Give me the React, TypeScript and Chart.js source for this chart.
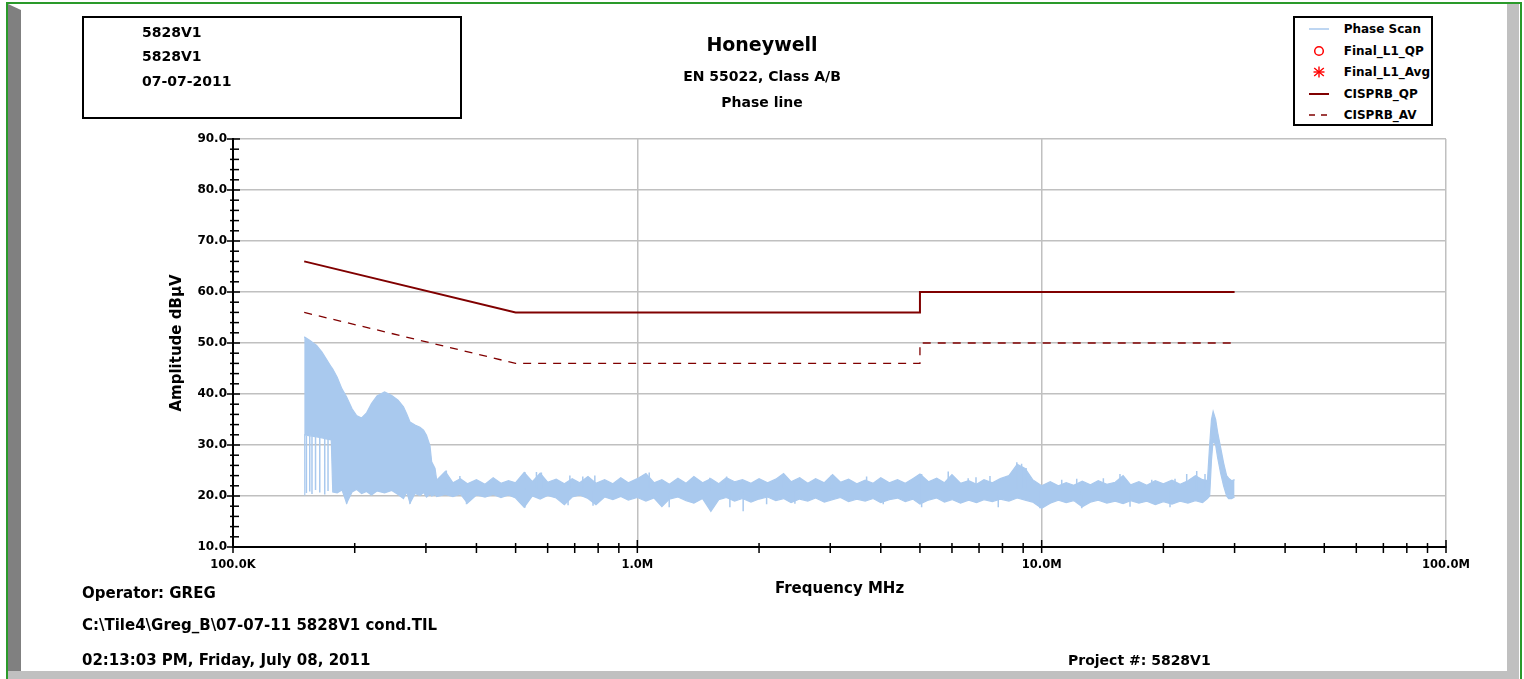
import React, { useEffect, useRef } from "react";
import { Chart, registerables } from "chart.js";

Chart.register(...registerables);

const FONT = "'DejaVu Sans', 'Liberation Sans', Arial, sans-serif";
const SCAN_COLOR = "#a9c9ee";
const LIMIT_COLOR = "#800000";

// ---- Phase Scan (envelope of the dense sweep), frequency in MHz ----
const scanFreqMHz = [
  0.150, 0.1505, 0.155, 0.161, 0.166, 0.170, 0.175, 0.1765, 0.181, 0.186, 0.191, 0.197,
  0.202, 0.208, 0.214, 0.220, 0.227, 0.237, 0.247, 0.256, 0.264, 0.269,
  0.274, 0.282, 0.290, 0.296, 0.301, 0.307, 0.310, 0.316, 0.319,
  0.335, 0.35, 0.365, 0.38, 0.40, 0.42, 0.44, 0.46, 0.48, 0.50,
  0.525, 0.55, 0.575, 0.60, 0.63, 0.66, 0.69, 0.72, 0.755, 0.79, 0.83, 0.87, 0.91, 0.95,
  1.0, 1.05, 1.1, 1.15, 1.2, 1.26, 1.32, 1.38, 1.45, 1.52, 1.59, 1.66, 1.74, 1.82, 1.91,
  2.0, 2.1, 2.2, 2.3, 2.4, 2.52, 2.64, 2.76, 2.9, 3.04, 3.18, 3.33, 3.49, 3.66, 3.83, 4.0, 4.2, 4.4, 4.6, 4.8,
  5.0, 5.25, 5.5, 5.75, 6.0, 6.3, 6.6, 6.9, 7.2, 7.55, 7.9, 8.3, 8.7, 9.1, 9.5,
  10.0, 10.5, 11.0, 11.5, 12.0, 12.6, 13.2, 13.8, 14.5, 15.2, 15.9, 16.6, 17.4, 18.2, 19.1, 20.0, 21.0, 22.0, 23.0, 24.0, 25.0,
  25.7, 26.03, 26.3, 26.55, 26.93, 27.24, 27.71, 28.18, 28.67, 29.0, 29.5, 30.0,
];
const scanUpper = [
  51.2, 51.2, 50.5, 49.5, 48.2, 46.9, 45.3, 44.9, 43.3, 41.0, 39.4, 37.1,
  35.8, 35.3, 36.3, 38.1, 39.6, 40.4, 39.7, 38.8, 37.5, 36.1,
  34.5, 33.9, 33.5, 32.9, 31.9, 29.9, 26.7, 25.4, 23.1,
  24.8, 22.6, 23.4, 22.4, 23.2, 22.3, 23.6, 22.5, 23.0, 22.6,
  24.6, 22.8, 24.5, 22.7, 23.3, 22.4, 23.4, 22.6, 23.8, 22.5, 23.2, 22.4, 23.6, 22.6,
  23.4, 24.4, 22.6, 23.2, 22.3, 23.5, 22.5, 23.8, 22.6, 23.4, 22.4, 23.6, 22.8, 23.2, 22.5,
  23.4, 22.6, 23.3, 24.4, 22.8, 23.6, 22.5, 23.4, 22.6, 24.2, 22.7, 23.3, 22.4, 23.1, 22.5, 23.6, 22.6, 23.2, 22.5, 23.4,
  24.3, 22.8, 23.5, 22.6, 24.2, 22.5, 23.0, 22.3, 23.2, 22.6, 23.4, 24.0, 26.2, 25.4, 23.2,
  22.0, 22.8, 22.0, 22.6, 22.1, 22.9, 22.2, 23.0, 22.3, 22.7, 24.0, 22.2, 22.8, 22.1, 23.0, 22.4, 23.1, 22.3, 23.0, 24.0, 23.2,
  23.0, 30.0, 35.0, 36.6, 35.0, 32.5, 29.5, 26.5, 24.0, 23.5, 23.0, 23.2,
];
const scanLower = [
  20.2, 32.0, 31.8, 31.6, 31.4, 31.2, 31.0, 20.8, 20.6, 21.2, 18.6, 20.8,
  21.3, 20.5, 20.9, 20.2, 21.0, 20.6, 21.1, 20.3, 19.5, 20.8,
  18.6, 20.5, 20.1, 20.7, 19.8, 20.4, 20.0, 20.3, 19.9,
  20.3, 19.9, 20.4, 18.6, 20.2, 19.8, 20.3, 19.7, 20.2, 19.6,
  17.8, 20.0, 19.4, 20.1, 19.6, 18.3, 19.8, 20.2, 19.5, 18.3, 19.8, 19.3, 19.9, 19.2,
  19.7, 19.0, 19.6, 17.9, 19.4, 19.8, 19.1, 18.6, 19.5, 17.0, 19.3, 19.7, 19.0, 19.5, 18.8,
  19.4, 19.8, 19.1, 19.5, 18.7, 19.4, 19.0, 19.6, 18.8, 19.3, 19.7, 18.9, 19.4, 19.0, 19.5, 18.7, 19.3, 19.6, 18.9, 19.4,
  18.4, 19.2, 19.6, 18.8, 19.3, 18.6, 19.2, 18.7, 19.3, 18.9, 19.4, 19.0, 19.6, 19.2, 18.8,
  17.6, 18.6, 19.2, 18.7, 19.1, 17.9, 18.8, 19.2, 18.6, 19.0, 18.5, 19.1, 18.6, 19.0, 18.3, 18.9, 18.4, 19.0, 18.6, 19.1, 18.7,
  19.5, 20.0, 27.0, 31.0, 30.0, 27.5, 24.5, 22.0, 20.0, 19.5, 19.5, 19.8,
];

// ---- Single sweep spikes (vertical strokes), frequency in MHz, low/high in dBuV ----
const spikeFreqMHz = [
  0.1519, 0.1548, 0.1568, 0.1600, 0.1639, 0.1686, 0.1718,
  0.191, 0.274, 0.337, 0.364, 0.378, 0.527, 0.563, 0.579, 0.674, 0.681, 0.733, 0.777, 0.785,
  1.070, 1.199, 1.511, 1.663, 1.694, 1.827, 2.088, 2.295, 2.453, 2.523, 3.022, 3.690, 4.057,
  5.048, 5.874, 6.58, 6.88, 7.45, 7.81, 8.68, 8.92, 9.15, 9.90,
  11.21, 12.21, 12.56, 14.21, 15.62, 16.54, 18.72, 20.77, 21.37, 22.84, 24.18, 25.35,
];
const spikeLow = [
  20.6, 20.9, 20.4, 21.2, 20.7, 20.3, 21.0,
  18.5, 18.5, 21.5, 21.5, 18.4, 17.7, 21.5, 21.5, 18.2, 21.5, 21.5, 18.1, 21.5,
  21.5, 17.8, 21.0, 21.5, 17.8, 17.0, 18.4, 21.5, 18.5, 21.5, 21.5, 21.5, 18.4,
  17.8, 21.5, 21.5, 21.5, 21.5, 17.8, 21.5, 21.5, 21.5, 17.6,
  21.3, 21.3, 17.6, 21.3, 21.3, 17.9, 21.3, 17.8, 21.3, 21.3, 21.3, 21.3,
];
const spikeHigh = [
  31.8, 31.8, 31.7, 31.6, 31.5, 31.3, 31.2,
  21.0, 21.0, 25.0, 23.9, 21.0, 24.7, 24.7, 24.6, 21.0, 24.0, 23.8, 21.0, 24.0,
  24.6, 21.0, 23.6, 23.8, 21.0, 21.0, 21.0, 24.3, 21.0, 23.6, 24.1, 23.8, 21.0,
  24.3, 24.8, 23.5, 23.7, 23.9, 21.0, 26.6, 26.3, 25.5, 21.0,
  23.2, 23.4, 21.0, 23.5, 24.3, 21.0, 23.2, 21.0, 23.4, 24.3, 24.9, 24.3,
];

// ---- Limit lines ----
const limitFreqMHz = [0.15, 0.5, 5, 5, 30];
const qpLimit = [66, 56, 56, 60, 60];
const avLimit = [56, 46, 46, 50, 50];

// ---- Axes ----
const xMajorValues = [0.1, 1, 10, 100];
const xMajorLabels = ["100.0K", "1.0M", "10.0M", "100.0M"];
const xMinorValues = [
  0.2, 0.3, 0.4, 0.5, 0.6, 0.7, 0.8, 0.9,
  2, 3, 4, 5, 6, 7, 8, 9,
  20, 30, 40, 50, 60, 70, 80, 90,
];
const yMajorValues = [10, 20, 30, 40, 50, 60, 70, 80, 90];
const yMinorValues = [
  12, 14, 16, 18, 22, 24, 26, 28, 32, 34, 36, 38, 42, 44, 46, 48,
  52, 54, 56, 58, 62, 64, 66, 68, 72, 74, 76, 78, 82, 84, 86, 88,
];

const headerLines = ["5828V1", "5828V1", "07-07-2011"];
const footerLines = [
  "Operator: GREG",
  "C:\\Tile4\\Greg_B\\07-07-11 5828V1 cond.TIL",
  "02:13:03 PM, Friday, July 08, 2011",
];
const projectText = "Project #: 5828V1";
const legendItems = ["Phase Scan", "Final_L1_QP", "Final_L1_Avg", "CISPRB_QP", "CISPRB_AV"];

const toXY = (xs: number[], ys: number[]) => xs.map((x, i) => ({ x, y: ys[i] }));
const toStrokes = (xs: number[], lo: number[], hi: number[]) =>
  xs.flatMap((x, i) => [
    { x, y: lo[i] },
    { x, y: hi[i] },
    { x, y: null },
  ]);

const tickMarksPlugin = {
  id: "tickMarks",
  afterDraw(chart: any) {
    const { ctx, chartArea, scales } = chart;
    const x = scales.x;
    const y = scales.y;
    ctx.save();
    ctx.strokeStyle = "#000";
    ctx.lineWidth = 1.5;
    const b = chartArea.bottom;
    const l = chartArea.left;
    const line = (x1: number, y1: number, x2: number, y2: number) => {
      ctx.beginPath();
      ctx.moveTo(x1, y1);
      ctx.lineTo(x2, y2);
      ctx.stroke();
    };
    xMajorValues.forEach((v) => {
      const px = x.getPixelForValue(v);
      line(px, b - 7, px, b + 6);
    });
    xMinorValues.forEach((v) => {
      const px = x.getPixelForValue(v);
      line(px, b - 4, px, b + 6);
    });
    yMajorValues.forEach((v) => {
      const py = y.getPixelForValue(v);
      line(l - 6, py, l + 7, py);
    });
    yMinorValues.forEach((v) => {
      const py = y.getPixelForValue(v);
      line(l - 3, py, l + 6, py);
    });
    ctx.restore();
  },
};

function LegendSymbol({ kind }: { kind: number }) {
  const w = 24;
  const h = 12;
  if (kind === 0)
    return (
      <svg width={w} height={h}>
        <line x1={2} y1={6} x2={22} y2={6} stroke={SCAN_COLOR} strokeWidth={1.5} />
      </svg>
    );
  if (kind === 1)
    return (
      <svg width={w} height={h}>
        <circle cx={12} cy={6} r={4.3} fill="none" stroke="#ff0000" strokeWidth={1.5} />
      </svg>
    );
  if (kind === 2)
    return (
      <svg width={w} height={h}>
        <g stroke="#ff0000" strokeWidth={1.4}>
          <line x1={12} y1={0.5} x2={12} y2={11.5} />
          <line x1={7.2} y1={2} x2={16.8} y2={10} />
          <line x1={16.8} y1={2} x2={7.2} y2={10} />
          <line x1={6.5} y1={6} x2={17.5} y2={6} />
        </g>
      </svg>
    );
  if (kind === 3)
    return (
      <svg width={w} height={h}>
        <line x1={2} y1={6} x2={22} y2={6} stroke={LIMIT_COLOR} strokeWidth={2} />
      </svg>
    );
  return (
    <svg width={w} height={h}>
      <line x1={2} y1={6} x2={22} y2={6} stroke={LIMIT_COLOR} strokeWidth={1.5} strokeDasharray="6 6" />
    </svg>
  );
}

export default function App() {
  const canvasRef = useRef<HTMLCanvasElement>(null);

  useEffect(() => {
    const canvas = canvasRef.current;
    if (!canvas) return;
    const chart = new Chart(canvas, {
      type: "line",
      data: {
        datasets: [
          {
            label: "Phase Scan",
            data: toXY(scanFreqMHz, scanLower),
            borderColor: SCAN_COLOR,
            backgroundColor: SCAN_COLOR,
            borderWidth: 1.2,
            pointRadius: 0,
            fill: false,
            tension: 0,
            order: 3,
          },
          {
            label: "Phase Scan peak",
            data: toXY(scanFreqMHz, scanUpper),
            borderColor: SCAN_COLOR,
            backgroundColor: SCAN_COLOR,
            borderWidth: 1.2,
            pointRadius: 0,
            fill: "-1",
            tension: 0,
            order: 3,
          },
          {
            label: "Phase Scan spikes",
            data: toStrokes(spikeFreqMHz, spikeLow, spikeHigh),
            borderColor: SCAN_COLOR,
            borderWidth: 1.5,
            pointRadius: 0,
            fill: false,
            spanGaps: false,
            tension: 0,
            order: 2,
          },
          {
            label: "CISPRB_QP",
            data: toXY(limitFreqMHz, qpLimit),
            borderColor: LIMIT_COLOR,
            borderWidth: 2,
            pointRadius: 0,
            fill: false,
            tension: 0,
            order: 1,
          },
          {
            label: "CISPRB_AV",
            data: toXY(limitFreqMHz, avLimit),
            borderColor: LIMIT_COLOR,
            borderWidth: 1.3,
            borderDash: [8, 7],
            pointRadius: 0,
            fill: false,
            tension: 0,
            order: 1,
          },
        ],
      } as any,
      options: {
        responsive: false,
        animation: false,
        events: [],
        layout: { padding: { top: 24, left: 78, right: 78, bottom: 81 } },
        plugins: {
          legend: { display: false },
          tooltip: { enabled: false },
          title: {
            display: true,
            text: "Honeywell",
            color: "#000",
            font: { family: FONT, size: 19, weight: "bold", lineHeight: "24px" },
            padding: { top: 10, bottom: 0 },
          },
          subtitle: {
            display: true,
            text: ["EN 55022, Class A/B", "Phase line"],
            color: "#000",
            font: { family: FONT, size: 14, weight: "bold", lineHeight: "26px" },
            padding: { top: 6, bottom: 23 },
          },
        },
        scales: {
          x: {
            type: "logarithmic",
            position: "bottom",
            min: 0.1,
            max: 100,
            afterBuildTicks: (s: any) => {
              s.ticks = xMajorValues.map((v) => ({ value: v }));
            },
            afterFit: (s: any) => {
              s.height = 51;
            },
            ticks: {
              autoSkip: false,
              maxRotation: 0,
              minRotation: 0,
              padding: 11.5,
              color: "#000",
              font: { family: FONT, size: 11.5, weight: "bold" },
              callback: (_v: any, i: number) => xMajorLabels[i] ?? "",
            },
            grid: { color: "#c0c0c0", lineWidth: 1.5, drawTicks: false },
            border: { color: "#000", width: 2 },
            title: {
              display: true,
              text: "Frequency MHz",
              color: "#000",
              font: { family: FONT, size: 15, weight: "bold" },
              padding: { top: 0, bottom: 0 },
            },
          },
          y: {
            type: "linear",
            min: 10,
            max: 90,
            afterBuildTicks: (s: any) => {
              s.ticks = yMajorValues.map((v) => ({ value: v }));
            },
            afterFit: (s: any) => {
              s.width = 155;
            },
            ticks: {
              padding: 6,
              color: "#000",
              font: { family: FONT, size: 12, weight: "bold" },
              callback: (v: any) => Number(v).toFixed(1),
            },
            grid: { color: "#c0c0c0", lineWidth: 1.5, drawTicks: false },
            border: { color: "#000", width: 2 },
            title: {
              display: true,
              text: "Amplitude dBμV",
              color: "#000",
              font: { family: FONT, size: 15, weight: "bold" },
              padding: { top: 90, bottom: 0 },
            },
          },
        },
      } as any,
      plugins: [tickMarksPlugin],
    });
    return () => chart.destroy();
  }, []);

  const text = (x: number, yc: number, size: number, s: string, key?: any) => (
    <div
      key={key}
      style={{
        position: "absolute",
        left: x,
        top: yc - size * 0.6,
        fontSize: size,
        lineHeight: `${size * 1.2}px`,
        fontWeight: "bold",
        whiteSpace: "nowrap",
        color: "#000",
      }}
    >
      {s}
    </div>
  );

  return (
    <div
      style={{
        position: "fixed",
        left: 0,
        top: 0,
        width: 1524,
        height: 679,
        background: "#fff",
        overflow: "hidden",
        fontFamily: FONT,
      }}
    >
      {/* frame */}
      <div style={{ position: "absolute", left: 6, top: 2, width: 1516, height: 700, border: "2px solid #2a9a2a", boxSizing: "border-box" }} />
      <div style={{ position: "absolute", left: 8, top: 4, width: 13, height: 675, background: "#808080", clipPath: "polygon(0 0, 100% 6px, 100% 100%, 0 100%)" }} />
      <div style={{ position: "absolute", left: 1507, top: 4, width: 12, height: 675, background: "#c0c0c0" }} />
      <div style={{ position: "absolute", left: 8, top: 671, width: 1511, height: 8, background: "#c0c0c0" }} />

      <canvas ref={canvasRef} width={1524} height={679} style={{ position: "absolute", left: 0, top: 0, width: 1524, height: 679 }} />

      {/* header info box */}
      <div style={{ position: "absolute", left: 82, top: 16, width: 380, height: 103, border: "2px solid #000", boxSizing: "border-box" }} />
      {headerLines.map((s, i) => text(142, 32 + i * 24.8, 14, s, "h" + i))}

      {/* legend */}
      <div
        style={{
          position: "absolute",
          left: 1293,
          top: 16,
          width: 140,
          height: 110,
          border: "2px solid #000",
          boxSizing: "border-box",
          background: "#fff",
          overflow: "hidden",
        }}
      >
        {legendItems.map((s, i) => (
          <div key={i} style={{ position: "absolute", left: 0, top: 13.3 + i * 21.4 - 9 - 2, height: 18, width: 200, display: "flex", alignItems: "center" }}>
            <div style={{ width: 12 }} />
            <LegendSymbol kind={i} />
            <div style={{ width: 12.7 }} />
            <span style={{ fontSize: 12, fontWeight: "bold", whiteSpace: "nowrap" }}>{s}</span>
          </div>
        ))}
      </div>

      {/* footer */}
      {footerLines.map((s, i) => text(82, [593, 625, 660][i], 15, s, "f" + i))}
      {text(1068, 660, 14, projectText, "p")}
    </div>
  );
}
